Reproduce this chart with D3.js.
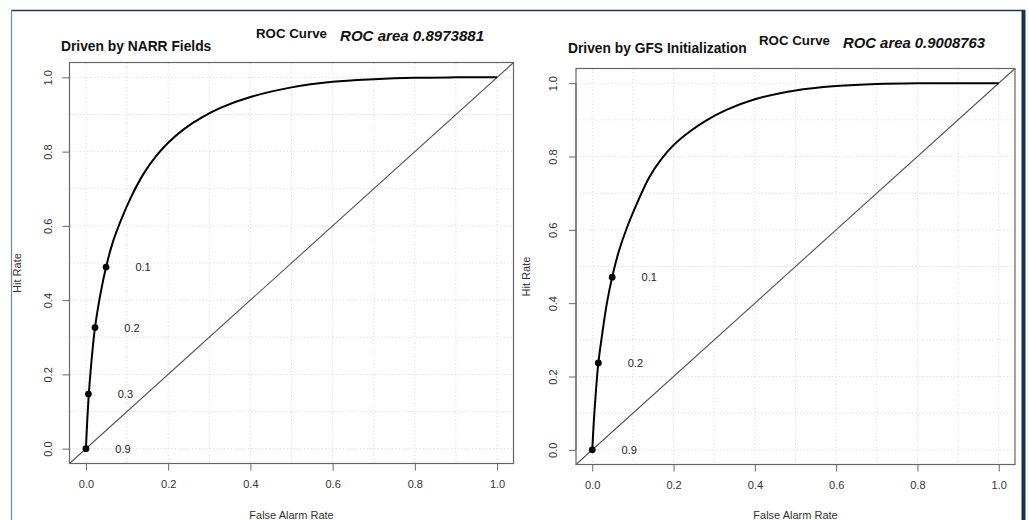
<!DOCTYPE html>
<html><head><meta charset="utf-8">
<script src="https://cdn.jsdelivr.net/npm/d3@7"></script>
<style>
html,body{margin:0;padding:0;background:#fff;}
svg{display:block;font-family:"Liberation Sans",Arial,Helvetica,sans-serif;}
</style></head>
<body>
<script>
// ---------- DATA ----------
const xTicks = [0, 0.2, 0.4, 0.6, 0.8, 1.0];
const yTicks = [0, 0.2, 0.4, 0.6, 0.8, 1.0];
const gridValues = [0,0.1,0.2,0.3,0.4,0.5,0.6,0.7,0.8,0.9,1.0];

const narrTitle = "Driven by NARR Fields";
const narrArea = "ROC area 0.8973881";
const narrCurveFA = [0,0.002,0.007,0.013,0.022,0.035,0.049,0.065,0.085,0.11,0.14,0.17,0.2,0.24,0.28,0.33,0.4,0.5,0.6,0.7,0.8,0.9,1.0];
const narrCurveHR = [0,0.05,0.147,0.23,0.326,0.415,0.489,0.555,0.615,0.678,0.74,0.787,0.824,0.862,0.891,0.919,0.947,0.973,0.988,0.995,0.999,1.0,1.0];
const narrPointFA = [0.049,0.022,0.006,0.0];
const narrPointHR = [0.489,0.326,0.147,0.0];
const narrPointLabels = ["0.1","0.2","0.3","0.9"];

const gfsTitle = "Driven by GFS Initialization";
const gfsArea = "ROC area 0.9008763";
const gfsCurveFA = [0,0.004,0.009,0.015,0.025,0.036,0.049,0.065,0.085,0.11,0.14,0.17,0.2,0.24,0.28,0.33,0.4,0.5,0.6,0.7,0.8,0.9,1.0];
const gfsCurveHR = [0,0.08,0.16,0.237,0.32,0.4,0.471,0.54,0.605,0.672,0.743,0.793,0.831,0.868,0.898,0.927,0.956,0.98,0.992,0.998,1.0,1.0,1.0];
const gfsPointFA = [0.049,0.015,0.0];
const gfsPointHR = [0.471,0.237,0.0];
const gfsPointLabels = ["0.1","0.2","0.9"];

const xLabel = "False Alarm Rate";
const yLabel = "Hit Rate";
const mainTitle = "ROC Curve";

// ---------- LAYOUT ----------
const W = 1029, H = 520;
const svg = d3.select("body").append("svg").attr("width", W).attr("height", H);
svg.append("rect").attr("width", W).attr("height", H).attr("fill", "#fff");

// outer frame
svg.append("line").attr("x1", 11).attr("x2", 1025).attr("y1", 10.5).attr("y2", 10.5)
  .attr("stroke", "#1d3a5c").attr("stroke-width", 1.6);
svg.append("line").attr("x1", 11.5).attr("x2", 11.5).attr("y1", 10).attr("y2", H)
  .attr("stroke", "#6f869b").attr("stroke-width", 1.2);
svg.append("line").attr("x1", 1023.5).attr("x2", 1023.5).attr("y1", 10).attr("y2", H)
  .attr("stroke", "#173057").attr("stroke-width", 4);

function panel(cfg) {
  const x = d3.scaleLinear().domain([-0.04, 1.04]).range([cfg.left, cfg.right]);
  const y = d3.scaleLinear().domain([-0.04, 1.04]).range([cfg.bottom, cfg.top]);
  const g = svg.append("g");

  // grid
  g.append("g").selectAll("line.vg").data(gridValues).join("line")
    .attr("x1", d => x(d)).attr("x2", d => x(d))
    .attr("y1", cfg.top).attr("y2", cfg.bottom)
    .attr("stroke", "#d9d9d9").attr("stroke-width", 0.8).attr("stroke-dasharray", "1.5,2");
  g.append("g").selectAll("line.hg").data(gridValues).join("line")
    .attr("y1", d => y(d)).attr("y2", d => y(d))
    .attr("x1", cfg.left).attr("x2", cfg.right)
    .attr("stroke", "#d9d9d9").attr("stroke-width", 0.8).attr("stroke-dasharray", "1.5,2");

  // diagonal
  g.append("line").attr("x1", x(-0.04)).attr("y1", y(-0.04)).attr("x2", x(1.04)).attr("y2", y(1.04))
    .attr("stroke", "#555").attr("stroke-width", 1.1);

  // curve
  const pts = cfg.fa.map((v, i) => [v, cfg.hr[i]]);
  g.append("path").datum(pts)
    .attr("d", d3.line().x(d => x(d[0])).y(d => y(d[1])).curve(d3.curveCatmullRom.alpha(0.5)))
    .attr("fill", "none").attr("stroke", "#000").attr("stroke-width", 2);

  // points + labels
  const pp = cfg.pfa.map((v, i) => ({fa: v, hr: cfg.phr[i], lab: cfg.plab[i]}));
  g.selectAll("circle.p").data(pp).join("circle")
    .attr("cx", d => x(d.fa)).attr("cy", d => y(d.hr)).attr("r", 3.4).attr("fill", "#000");
  g.selectAll("text.pl").data(pp).join("text")
    .attr("x", d => x(d.fa) + 37).attr("y", d => y(d.hr) + 4)
    .attr("text-anchor", "middle").attr("font-size", 11).attr("fill", "#222")
    .text(d => d.lab);

  // box
  g.append("rect").attr("x", cfg.left).attr("y", cfg.top)
    .attr("width", cfg.right - cfg.left).attr("height", cfg.bottom - cfg.top)
    .attr("fill", "none").attr("stroke", "#666").attr("stroke-width", 1.2);

  // x axis
  const xa = g.append("g").attr("transform", `translate(0,${cfg.bottom})`)
    .call(d3.axisBottom(x).tickValues(xTicks).tickFormat(d3.format(".1f")).tickSize(7).tickPadding(10));
  xa.select(".domain").attr("stroke", "#666").attr("d", `M${x(0)},0H${x(1)}`);
  xa.selectAll(".tick line").attr("stroke", "#666");
  xa.selectAll("text").attr("font-size", 11).attr("fill", "#333").attr("font-family", null);

  // y axis
  const ya = g.append("g").attr("transform", `translate(${cfg.left},0)`)
    .call(d3.axisLeft(y).tickValues(yTicks).tickFormat(d3.format(".1f")).tickSize(7).tickPadding(0));
  ya.select(".domain").attr("stroke", "#666").attr("d", `M0,${y(0)}V${y(1)}`);
  ya.selectAll(".tick line").attr("stroke", "#666");
  ya.selectAll(".tick text").attr("font-size", 11).attr("fill", "#333").attr("font-family", null)
    .attr("x", null).attr("dy", null)
    .attr("text-anchor", "middle")
    .attr("transform", `translate(${cfg.yLabX - cfg.left},0) rotate(-90)`);

  // axis titles
  g.append("text").attr("x", (x(0) + x(1)) / 2).attr("y", 519)
    .attr("text-anchor", "middle").attr("font-size", 11).attr("fill", "#333").text(xLabel);
  g.append("text").attr("transform", `translate(${cfg.hitX},${(cfg.top + cfg.bottom) / 2 + 10}) rotate(-90)`)
    .attr("text-anchor", "middle").attr("font-size", 11).attr("fill", "#333").text(yLabel);

  // titles
  g.append("text").attr("x", cfg.tX).attr("y", cfg.tY).attr("font-size", 13.8).attr("font-weight", "bold")
    .attr("fill", "#111").text(cfg.title);
  g.append("text").attr("x", cfg.rcX).attr("y", cfg.rcY).attr("font-size", 13.3).attr("font-weight", "bold")
    .attr("fill", "#111").text(mainTitle);
  g.append("text").attr("x", cfg.raX).attr("y", cfg.raY).attr("font-size", 15.5).attr("font-weight", "bold")
    .attr("font-style", "italic").attr("fill", "#111")
    .attr("textLength", cfg.raW).attr("lengthAdjust", "spacingAndGlyphs").text(cfg.area);
}

panel({left: 69.5, right: 513.5, top: 62.5, bottom: 463.5, yLabX: 52, hitX: 21,
  fa: narrCurveFA, hr: narrCurveHR, pfa: narrPointFA, phr: narrPointHR, plab: narrPointLabels,
  title: narrTitle, area: narrArea, tX: 61, tY: 51, rcX: 256, rcY: 38, raX: 340, raY: 41, raW: 144});

panel({left: 576, right: 1015, top: 68.5, bottom: 464.5, yLabX: 557, hitX: 530,
  fa: gfsCurveFA, hr: gfsCurveHR, pfa: gfsPointFA, phr: gfsPointHR, plab: gfsPointLabels,
  title: gfsTitle, area: gfsArea, tX: 568, tY: 53, rcX: 759, rcY: 45, raX: 843, raY: 48, raW: 142});
</script>
</body></html>
